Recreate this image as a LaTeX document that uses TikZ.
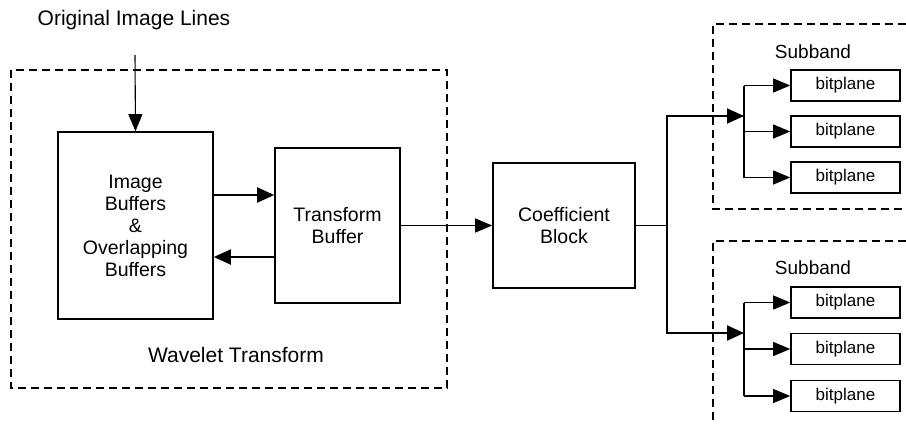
\documentclass[tikz,border=0pt]{standalone}
\usepackage{fontspec}
\setmainfont{Liberation Sans}
\usetikzlibrary{arrows.meta}

\begin{document}
\begin{tikzpicture}[x=1pt, y=-1pt,
  box/.style={draw, line width=1.6pt, align=center, inner sep=0pt,
    font=\fontsize{19.5}{22}\selectfont},
  bitbox/.style={draw, line width=1.6pt, minimum width=109pt, minimum height=31pt,
    inner sep=0pt, font=\fontsize{17}{20}\selectfont},
  region/.style={dashed, dash pattern=on 8pt off 5pt, line width=1.5pt},
  title/.style={font=\fontsize{21}{24}\selectfont},
  arr/.style={-{Triangle[length=17pt, width=15pt]}, line width=2pt},
  thinarr/.style={-{Triangle[length=17pt, width=14pt]}, line width=1.1pt}]

\useasboundingbox (0,0) rectangle (906,424);

% Regions
\draw[region] (11,70) rectangle (447,388);
\draw[region] (906,24) -- (713,24) -- (713,209) -- (906,209);
\draw[region] (906,241) -- (713,241) -- (713,424);

% Nodes (blocks)
\node[title] (orig) at (134,20) {Original Image Lines};
\coordinate (in) at (135,55);
\node[box, minimum width=155pt, minimum height=187pt] (imgbuf) at (135.5,225.5)
  {Image\\Buffers\\\&\\Overlapping\\Buffers};
\node[box, minimum width=125pt, minimum height=155pt] (tbuf) at (337.5,225.5)
  {Transform\\Buffer};
\node[box, minimum width=142pt, minimum height=125pt] (coef) at (564,225.5)
  {Coefficient\\Block};
\node[title] (wave) at (236,355) {Wavelet Transform};

% Subbands
\node[font=\fontsize{19}{22}\selectfont] (sub1) at (813,52) {Subband};
\node[bitbox] (b11) at (845.5,85.5) {bitplane};
\node[bitbox] (b12) at (845.5,131.5) {bitplane};
\node[bitbox] (b13) at (845.5,177.5) {bitplane};
\node[font=\fontsize{19}{22}\selectfont] (sub2) at (813,268) {Subband};
\node[bitbox] (b21) at (845.5,302.5) {bitplane};
\node[bitbox] (b22) at (845.5,349) {bitplane};
\node[bitbox] (b23) at (845.5,396) {bitplane};

% Branch points
\coordinate (split) at (667,225.5);
\coordinate (f1) at (744,116);
\coordinate (f2) at (744,333);

% Arrows
\draw[thinarr] (in) -- (imgbuf.north);
\draw[arr] (imgbuf.east |- 0,195) -- (tbuf.west |- 0,195);
\draw[arr] (tbuf.west |- 0,257) -- (imgbuf.east |- 0,257);
\draw[thinarr] (tbuf.east) -- (coef.west);
\draw[line width=1.6pt] (coef.east) -- (split);
\draw[arr] (split) |- (f1);
\draw[arr] (split) |- (f2);

% Fan-out to bitplanes
\draw[line width=1.4pt] (f1 |- b11) -- (f1 |- b13);
\draw[line width=1.4pt] (f2 |- b21) -- (f2 |- b23);
\draw[thinarr] (f1 |- b11) -- (b11.west);
\draw[thinarr] (f1 |- b12) -- (b12.west);
\draw[thinarr] (f1 |- b13) -- (b13.west);
\draw[thinarr] (f2 |- b21) -- (b21.west);
\draw[thinarr] (f2 |- b22) -- (b22.west);
\draw[thinarr] (f2 |- b23) -- (b23.west);

\end{tikzpicture}
\end{document}
